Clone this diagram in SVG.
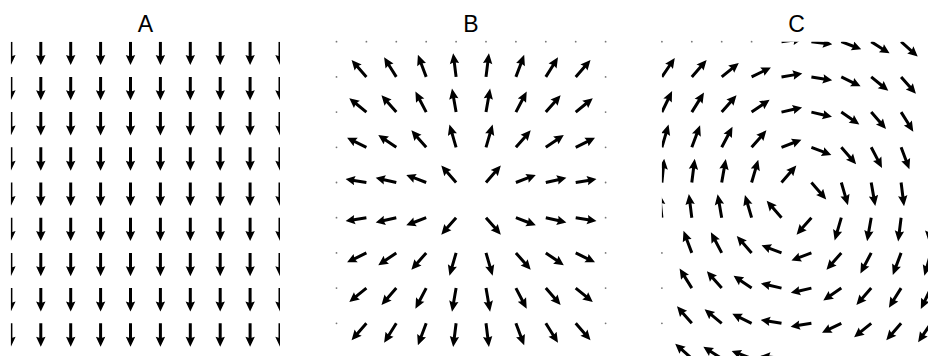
<svg xmlns="http://www.w3.org/2000/svg" width="928" height="356" viewBox="0 0 928 356">
<style>
.t{font-family:"Liberation Sans",Arial,sans-serif;font-size:23px;fill:#000;text-anchor:middle}
.d{fill:#777}
.q{fill:#000}
</style>
<defs>
<path id="ar" d="M0 -1.5H13.5L12.5 -4.7L22.5 0L12.5 4.7L13.5 1.5H0Z"/>
<path id="ad" d="M-1.5 0V14.4L-4.7 13.4L0 23.4L4.7 13.4L1.5 14.4V0Z"/>
<clipPath id="cA"><rect x="10.9" y="41.7" width="269.1" height="320"/></clipPath>
<clipPath id="cB"><rect x="336.5" y="41.7" width="269.1" height="320"/></clipPath>
<clipPath id="cC"><rect x="661.9" y="41.7" width="269.1" height="320"/></clipPath>
<g id="rowA">
<use href="#ad" x="10.9"/><use href="#ad" x="40.8"/><use href="#ad" x="70.7"/><use href="#ad" x="100.6"/><use href="#ad" x="130.5"/>
<use href="#ad" x="160.4"/><use href="#ad" x="190.3"/><use href="#ad" x="220.2"/><use href="#ad" x="250.1"/><use href="#ad" x="280"/>
</g>
</defs>
<rect width="928" height="356" fill="#fff"/>

<g id="titles">
<text class="t" x="145.5" y="32">A</text>
<text class="t" x="471" y="32">B</text>
<text class="t" x="796.5" y="32">C</text>
</g>

<g id="panelA" class="q" clip-path="url(#cA)">
<use href="#rowA" y="41.7"/><use href="#rowA" y="76.9"/><use href="#rowA" y="112.1"/>
<use href="#rowA" y="147.3"/><use href="#rowA" y="182.5"/><use href="#rowA" y="217.7"/>
<use href="#rowA" y="252.9"/><use href="#rowA" y="288.1"/><use href="#rowA" y="323.3"/>
</g>

<g id="panelB" class="q" clip-path="url(#cB)">
<use href="#ar" transform="translate(366.4 76.9) rotate(228.8)"/>
<use href="#ar" transform="translate(396.3 76.9) rotate(238) scale(1.024 1)"/>
<use href="#ar" transform="translate(426.2 76.9) rotate(249.4) scale(1.047 1)"/>
<use href="#ar" transform="translate(456.1 76.9) rotate(262.9) scale(1.064 1)"/>
<use href="#ar" transform="translate(486 76.9) rotate(-82.9) scale(1.064 1)"/>
<use href="#ar" transform="translate(515.9 76.9) rotate(-69.4) scale(1.047 1)"/>
<use href="#ar" transform="translate(545.8 76.9) rotate(-58) scale(1.024 1)"/>
<use href="#ar" transform="translate(575.7 76.9) rotate(-48.8)"/>

<use href="#ar" transform="translate(366.4 112.1) rotate(219.2) scale(0.98 1)"/>
<use href="#ar" transform="translate(396.3 112.1) rotate(228.8)"/>
<use href="#ar" transform="translate(426.2 112.1) rotate(242.3) scale(1.033 1)"/>
<use href="#ar" transform="translate(456.1 112.1) rotate(260.1) scale(1.062 1)"/>
<use href="#ar" transform="translate(486 112.1) rotate(-80.1) scale(1.062 1)"/>
<use href="#ar" transform="translate(515.9 112.1) rotate(-62.3) scale(1.033 1)"/>
<use href="#ar" transform="translate(545.8 112.1) rotate(-48.8)"/>
<use href="#ar" transform="translate(575.7 112.1) rotate(-39.2) scale(0.98 1)"/>

<use href="#ar" transform="translate(366.4 147.3) rotate(206.1) scale(0.955 1)"/>
<use href="#ar" transform="translate(396.3 147.3) rotate(214.4) scale(0.97 1)"/>
<use href="#ar" transform="translate(426.2 147.3) rotate(228.8)"/>
<use href="#ar" transform="translate(456.1 147.3) rotate(253.7) scale(1.054 1)"/>
<use href="#ar" transform="translate(486 147.3) rotate(-73.7) scale(1.054 1)"/>
<use href="#ar" transform="translate(515.9 147.3) rotate(-48.8)"/>
<use href="#ar" transform="translate(545.8 147.3) rotate(-34.4) scale(0.97 1)"/>
<use href="#ar" transform="translate(575.7 147.3) rotate(-26.1) scale(0.955 1)"/>

<use href="#ar" transform="translate(366.4 182.5) rotate(189.3) scale(0.936 1)"/>
<use href="#ar" transform="translate(396.3 182.5) rotate(192.9) scale(0.939 1)"/>
<use href="#ar" transform="translate(426.2 182.5) rotate(200.9) scale(0.948 1)"/>
<use href="#ar" transform="translate(456.1 182.5) rotate(228.8)"/>
<use href="#ar" transform="translate(486 182.5) rotate(-48.8)"/>
<use href="#ar" transform="translate(515.9 182.5) rotate(-20.9) scale(0.948 1)"/>
<use href="#ar" transform="translate(545.8 182.5) rotate(-12.9) scale(0.939 1)"/>
<use href="#ar" transform="translate(575.7 182.5) rotate(-9.3) scale(0.936 1)"/>

<use href="#ar" transform="translate(366.4 217.7) rotate(170.7) scale(0.936 1)"/>
<use href="#ar" transform="translate(396.3 217.7) rotate(167.1) scale(0.939 1)"/>
<use href="#ar" transform="translate(426.2 217.7) rotate(159.1) scale(0.948 1)"/>
<use href="#ar" transform="translate(456.1 217.7) rotate(131.2)"/>
<use href="#ar" transform="translate(486 217.7) rotate(48.8)"/>
<use href="#ar" transform="translate(515.9 217.7) rotate(20.9) scale(0.948 1)"/>
<use href="#ar" transform="translate(545.8 217.7) rotate(12.9) scale(0.939 1)"/>
<use href="#ar" transform="translate(575.7 217.7) rotate(9.3) scale(0.936 1)"/>

<use href="#ar" transform="translate(366.4 252.9) rotate(153.9) scale(0.955 1)"/>
<use href="#ar" transform="translate(396.3 252.9) rotate(145.6) scale(0.97 1)"/>
<use href="#ar" transform="translate(426.2 252.9) rotate(131.2)"/>
<use href="#ar" transform="translate(456.1 252.9) rotate(106.3) scale(1.054 1)"/>
<use href="#ar" transform="translate(486 252.9) rotate(73.7) scale(1.054 1)"/>
<use href="#ar" transform="translate(515.9 252.9) rotate(48.8)"/>
<use href="#ar" transform="translate(545.8 252.9) rotate(34.4) scale(0.97 1)"/>
<use href="#ar" transform="translate(575.7 252.9) rotate(26.1) scale(0.955 1)"/>

<use href="#ar" transform="translate(366.4 288.1) rotate(140.8) scale(0.98 1)"/>
<use href="#ar" transform="translate(396.3 288.1) rotate(131.2)"/>
<use href="#ar" transform="translate(426.2 288.1) rotate(117.7) scale(1.033 1)"/>
<use href="#ar" transform="translate(456.1 288.1) rotate(99.9) scale(1.062 1)"/>
<use href="#ar" transform="translate(486 288.1) rotate(80.1) scale(1.062 1)"/>
<use href="#ar" transform="translate(515.9 288.1) rotate(62.3) scale(1.033 1)"/>
<use href="#ar" transform="translate(545.8 288.1) rotate(48.8)"/>
<use href="#ar" transform="translate(575.7 288.1) rotate(39.2) scale(0.98 1)"/>

<use href="#ar" transform="translate(366.4 323.3) rotate(131.2)"/>
<use href="#ar" transform="translate(396.3 323.3) rotate(122) scale(1.024 1)"/>
<use href="#ar" transform="translate(426.2 323.3) rotate(110.6) scale(1.047 1)"/>
<use href="#ar" transform="translate(456.1 323.3) rotate(97.1) scale(1.064 1)"/>
<use href="#ar" transform="translate(486 323.3) rotate(82.9) scale(1.064 1)"/>
<use href="#ar" transform="translate(515.9 323.3) rotate(69.4) scale(1.047 1)"/>
<use href="#ar" transform="translate(545.8 323.3) rotate(58) scale(1.024 1)"/>
<use href="#ar" transform="translate(575.7 323.3) rotate(48.8)"/>
</g>
<g id="dotsB" class="d">
<circle cx="336.5" cy="41.7" r="0.9"/><circle cx="366.4" cy="41.7" r="0.9"/><circle cx="396.3" cy="41.7" r="0.9"/><circle cx="426.2" cy="41.7" r="0.9"/><circle cx="456.1" cy="41.7" r="0.9"/>
<circle cx="486" cy="41.7" r="0.9"/><circle cx="515.9" cy="41.7" r="0.9"/><circle cx="545.8" cy="41.7" r="0.9"/><circle cx="575.7" cy="41.7" r="0.9"/><circle cx="605.6" cy="41.7" r="0.9"/>
<circle cx="336.5" cy="76.9" r="0.9"/><circle cx="336.5" cy="112.1" r="0.9"/><circle cx="336.5" cy="147.3" r="0.9"/><circle cx="336.5" cy="182.5" r="0.9"/>
<circle cx="336.5" cy="217.7" r="0.9"/><circle cx="336.5" cy="252.9" r="0.9"/><circle cx="336.5" cy="288.1" r="0.9"/><circle cx="336.5" cy="323.3" r="0.9"/>
<circle cx="605.6" cy="76.9" r="0.9"/><circle cx="605.6" cy="112.1" r="0.9"/><circle cx="605.6" cy="147.3" r="0.9"/><circle cx="605.6" cy="182.5" r="0.9"/>
<circle cx="605.6" cy="217.7" r="0.9"/><circle cx="605.6" cy="252.9" r="0.9"/><circle cx="605.6" cy="288.1" r="0.9"/><circle cx="605.6" cy="323.3" r="0.9"/>
</g>

<g id="panelC" class="q" clip-path="url(#cC)">
<use href="#ar" transform="translate(781.5 41.7) rotate(-7.2) scale(0.935 1)"/>
<use href="#ar" transform="translate(811.4 41.7) rotate(7.2) scale(0.935 1)"/>
<use href="#ar" transform="translate(841.3 41.7) rotate(20.9) scale(0.948 1)"/>
<use href="#ar" transform="translate(871.2 41.7) rotate(32.4) scale(0.966 1)"/>
<use href="#ar" transform="translate(901.1 41.7) rotate(41.6) scale(0.986 1)"/>

<use href="#ar" transform="translate(661.9 76.9) rotate(-55.8) scale(1.019 1)"/>
<use href="#ar" transform="translate(691.8 76.9) rotate(-48.8)"/>
<use href="#ar" transform="translate(721.7 76.9) rotate(-39.2) scale(0.98 1)"/>
<use href="#ar" transform="translate(751.6 76.9) rotate(-26.1) scale(0.955 1)"/>
<use href="#ar" transform="translate(781.5 76.9) rotate(-9.3) scale(0.936 1)"/>
<use href="#ar" transform="translate(811.4 76.9) rotate(9.3) scale(0.936 1)"/>
<use href="#ar" transform="translate(841.3 76.9) rotate(26.1) scale(0.955 1)"/>
<use href="#ar" transform="translate(871.2 76.9) rotate(39.2) scale(0.98 1)"/>
<use href="#ar" transform="translate(901.1 76.9) rotate(48.8)"/>

<use href="#ar" transform="translate(661.9 112.1) rotate(-64.1) scale(1.037 1)"/>
<use href="#ar" transform="translate(691.8 112.1) rotate(-58) scale(1.024 1)"/>
<use href="#ar" transform="translate(721.7 112.1) rotate(-48.8)"/>
<use href="#ar" transform="translate(751.6 112.1) rotate(-34.4) scale(0.97 1)"/>
<use href="#ar" transform="translate(781.5 112.1) rotate(-12.9) scale(0.939 1)"/>
<use href="#ar" transform="translate(811.4 112.1) rotate(12.9) scale(0.939 1)"/>
<use href="#ar" transform="translate(841.3 112.1) rotate(34.4) scale(0.97 1)"/>
<use href="#ar" transform="translate(871.2 112.1) rotate(48.8)"/>
<use href="#ar" transform="translate(901.1 112.1) rotate(58) scale(1.024 1)"/>

<use href="#ar" transform="translate(661.9 147.3) rotate(-73.7) scale(1.054 1)"/>
<use href="#ar" transform="translate(691.8 147.3) rotate(-69.4) scale(1.047 1)"/>
<use href="#ar" transform="translate(721.7 147.3) rotate(-62.3) scale(1.033 1)"/>
<use href="#ar" transform="translate(751.6 147.3) rotate(-48.8)"/>
<use href="#ar" transform="translate(781.5 147.3) rotate(-20.9) scale(0.948 1)"/>
<use href="#ar" transform="translate(811.4 147.3) rotate(20.9) scale(0.948 1)"/>
<use href="#ar" transform="translate(841.3 147.3) rotate(48.8)"/>
<use href="#ar" transform="translate(871.2 147.3) rotate(62.3) scale(1.033 1)"/>
<use href="#ar" transform="translate(901.1 147.3) rotate(69.4) scale(1.047 1)"/>

<use href="#ar" transform="translate(661.9 182.5) rotate(-84.5) scale(1.065 1)"/>
<use href="#ar" transform="translate(691.8 182.5) rotate(-82.9) scale(1.064 1)"/>
<use href="#ar" transform="translate(721.7 182.5) rotate(-80.1) scale(1.062 1)"/>
<use href="#ar" transform="translate(751.6 182.5) rotate(-73.7) scale(1.054 1)"/>
<use href="#ar" transform="translate(781.5 182.5) rotate(-48.8)"/>
<use href="#ar" transform="translate(811.4 182.5) rotate(48.8)"/>
<use href="#ar" transform="translate(841.3 182.5) rotate(73.7) scale(1.054 1)"/>
<use href="#ar" transform="translate(871.2 182.5) rotate(80.1) scale(1.062 1)"/>
<use href="#ar" transform="translate(901.1 182.5) rotate(82.9) scale(1.064 1)"/>

<use href="#ar" transform="translate(661.9 217.7) rotate(264.5) scale(1.065 1)"/>
<use href="#ar" transform="translate(691.8 217.7) rotate(262.9) scale(1.064 1)"/>
<use href="#ar" transform="translate(721.7 217.7) rotate(260.1) scale(1.062 1)"/>
<use href="#ar" transform="translate(751.6 217.7) rotate(253.7) scale(1.054 1)"/>
<use href="#ar" transform="translate(781.5 217.7) rotate(228.8)"/>
<use href="#ar" transform="translate(811.4 217.7) rotate(131.2)"/>
<use href="#ar" transform="translate(841.3 217.7) rotate(106.3) scale(1.054 1)"/>
<use href="#ar" transform="translate(871.2 217.7) rotate(99.9) scale(1.062 1)"/>
<use href="#ar" transform="translate(901.1 217.7) rotate(97.1) scale(1.064 1)"/>
<use href="#ar" transform="translate(931 217.7) rotate(95.5) scale(1.065 1)"/>

<use href="#ar" transform="translate(691.8 252.9) rotate(249.4) scale(1.047 1)"/>
<use href="#ar" transform="translate(721.7 252.9) rotate(242.3) scale(1.033 1)"/>
<use href="#ar" transform="translate(751.6 252.9) rotate(228.8)"/>
<use href="#ar" transform="translate(781.5 252.9) rotate(200.9) scale(0.948 1)"/>
<use href="#ar" transform="translate(811.4 252.9) rotate(159.1) scale(0.948 1)"/>
<use href="#ar" transform="translate(841.3 252.9) rotate(131.2)"/>
<use href="#ar" transform="translate(871.2 252.9) rotate(117.7) scale(1.033 1)"/>
<use href="#ar" transform="translate(901.1 252.9) rotate(110.6) scale(1.047 1)"/>
<use href="#ar" transform="translate(931 252.9) rotate(106.3) scale(1.054 1)"/>

<use href="#ar" transform="translate(691.8 288.1) rotate(238) scale(1.024 1)"/>
<use href="#ar" transform="translate(721.7 288.1) rotate(228.8)"/>
<use href="#ar" transform="translate(751.6 288.1) rotate(214.4) scale(0.97 1)"/>
<use href="#ar" transform="translate(781.5 288.1) rotate(192.9) scale(0.939 1)"/>
<use href="#ar" transform="translate(811.4 288.1) rotate(167.1) scale(0.939 1)"/>
<use href="#ar" transform="translate(841.3 288.1) rotate(145.6) scale(0.97 1)"/>
<use href="#ar" transform="translate(871.2 288.1) rotate(131.2)"/>
<use href="#ar" transform="translate(901.1 288.1) rotate(122) scale(1.024 1)"/>
<use href="#ar" transform="translate(931 288.1) rotate(115.9) scale(1.037 1)"/>

<use href="#ar" transform="translate(691.8 323.3) rotate(228.8)"/>
<use href="#ar" transform="translate(721.7 323.3) rotate(219.2) scale(0.98 1)"/>
<use href="#ar" transform="translate(751.6 323.3) rotate(206.1) scale(0.955 1)"/>
<use href="#ar" transform="translate(781.5 323.3) rotate(189.3) scale(0.936 1)"/>
<use href="#ar" transform="translate(811.4 323.3) rotate(170.7) scale(0.936 1)"/>
<use href="#ar" transform="translate(841.3 323.3) rotate(153.9) scale(0.955 1)"/>
<use href="#ar" transform="translate(871.2 323.3) rotate(140.8) scale(0.98 1)"/>
<use href="#ar" transform="translate(901.1 323.3) rotate(131.2)"/>
<use href="#ar" transform="translate(931 323.3) rotate(124.2) scale(1.019 1)"/>

<use href="#ar" transform="translate(691.8 358.5) rotate(221.6) scale(0.986 1)"/>
<use href="#ar" transform="translate(721.7 358.5) rotate(212.4) scale(0.966 1)"/>
<use href="#ar" transform="translate(751.6 358.5) rotate(200.9) scale(0.948 1)"/>
<use href="#ar" transform="translate(781.5 358.5) rotate(187.2) scale(0.935 1)"/>
</g>
<g id="dotsC" class="d">
<circle cx="661.9" cy="41.7" r="0.9"/><circle cx="691.8" cy="41.7" r="0.9"/><circle cx="721.7" cy="41.7" r="0.9"/><circle cx="751.6" cy="41.7" r="0.9"/>
<circle cx="661.9" cy="252.9" r="0.9"/><circle cx="661.9" cy="288.1" r="0.9"/><circle cx="661.9" cy="323.3" r="0.9"/>
</g>
</svg>
